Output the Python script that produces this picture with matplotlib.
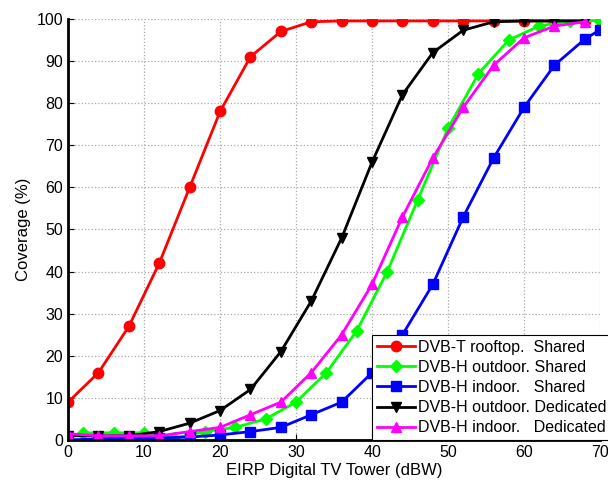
import matplotlib
matplotlib.use("Agg")
import matplotlib.pyplot as plt

plt.rcParams["font.family"] = ["Liberation Sans", "DejaVu Sans"]

# EIRP (dBW) and coverage (%)
X4 = [0, 4, 8, 12, 16, 20, 24, 28, 32, 36, 40, 44, 48, 52, 56, 60, 64, 68]
RED = [9, 16, 27, 42, 60, 78, 91, 97, 99.3, 99.5, 99.5, 99.5, 99.5, 99.5, 99.5, 99.5, 99.5, 99.5]
BLACK = [1, 1, 1, 2, 4, 7, 12, 21, 33, 48, 66, 82, 92, 97.3, 99.3, 99.5, 99.5, 99.5]
MAGENTA = [1.5, 1, 1, 1, 2, 3, 6, 9, 16, 25, 37, 53, 67, 79, 89, 95.5, 98.3, 99.3]

X_GREEN = [2, 6, 10, 14, 18, 22, 26, 30, 34, 38, 42, 46, 50, 54, 58, 62, 66, 70]
GREEN = [1.7, 1.7, 1.7, 0.5, 2, 3, 5, 9, 16, 26, 40, 57, 74, 87, 95, 98.3, 99.5, 99.6]

X_BLUE = [0, 4, 8, 12, 16, 20, 24, 28, 32, 36, 40, 44, 48, 52, 56, 60, 64, 68, 70]
BLUE = [0, 0.3, 0.5, 0.5, 0.7, 1.2, 2, 3, 6, 9, 16, 25, 37, 53, 67, 79, 89, 95.2, 97.4]

fig = plt.figure(figsize=(6.08, 4.83), dpi=100)
ax = fig.add_axes([0.112, 0.089, 0.875, 0.872])

kw = dict(lw=2, ms=7.5)
ax.plot(X4, RED, "o-", color="#ff0000", label="DVB-T rooftop.  Shared", **kw)
ax.plot(X_GREEN, GREEN, "D-", color="#00ff00", label="DVB-H outdoor. Shared", lw=2, ms=6.5)
ax.plot(X_BLUE, BLUE, "s-", color="#0000ff", label="DVB-H indoor.   Shared", **kw)
ax.plot(X4, BLACK, "v-", color="black", label="DVB-H outdoor. Dedicated", **kw)
ax.plot(X4, MAGENTA, "^-", color="#ff00ff", label="DVB-H indoor.   Dedicated", **kw)

ax.set_xlim(0, 70); ax.set_ylim(0, 100)
ax.set_xticks(range(0, 71, 10)); ax.set_yticks(range(0, 101, 10))
ax.grid(True, color="#aaaaaa", ls=":", lw=0.9)
ax.tick_params(direction="in", labelsize=11.5, length=4)
for s in ["top", "right"]:
    ax.spines[s].set_visible(False)
for s in ["left", "bottom"]:
    ax.spines[s].set_linewidth(2)
ax.set_xlabel("EIRP Digital TV Tower (dBW)", fontsize=12, labelpad=2)
ax.set_ylabel("Coverage (%)", fontsize=12)

leg = ax.legend(loc="lower left", bbox_to_anchor=(0.571, 0.0), fontsize=11.5,
                fancybox=False, framealpha=1, edgecolor="black",
                handlelength=2.4, handletextpad=0.2, borderpad=0.3, labelspacing=0.32,
                borderaxespad=0)
leg.get_frame().set_linewidth(0.8)

fig.savefig("out.png", dpi=100)
